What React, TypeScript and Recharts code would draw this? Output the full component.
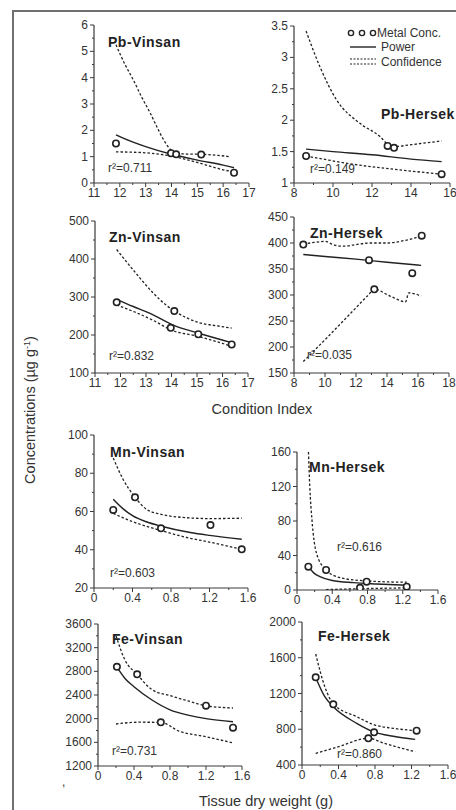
import React from 'react';
import { ComposedChart, Line, Scatter, XAxis, YAxis } from 'recharts';

type Pt = { x: number; y: number };

// ---------- Pb - Vinsan (Condition Index) ----------
const pbVinsanPoints: Pt[] = [
  { x: 11.85, y: 1.5 }, { x: 13.98, y: 1.13 }, { x: 14.18, y: 1.09 }, { x: 15.15, y: 1.08 }, { x: 16.42, y: 0.39 },
];
const pbVinsanPower: Pt[] = [
  { x: 11.85, y: 1.83 }, { x: 12, y: 1.76 }, { x: 13, y: 1.38 }, { x: 14, y: 1.09 }, { x: 15, y: 0.87 }, { x: 16, y: 0.68 }, { x: 16.42, y: 0.58 },
];
const pbVinsanUpper: Pt[] = [
  { x: 11.85, y: 5.25 }, { x: 12.2, y: 4.5 }, { x: 12.53, y: 3.9 }, { x: 12.85, y: 3.25 }, { x: 13.18, y: 2.65 }, { x: 13.45, y: 2.1 },
  { x: 13.7, y: 1.63 }, { x: 13.98, y: 1.25 }, { x: 14.18, y: 1.12 }, { x: 14.6, y: 1.1 }, { x: 15.15, y: 1.09 }, { x: 15.8, y: 1.05 }, { x: 16.25, y: 1.0 },
];
const pbVinsanLower: Pt[] = [
  { x: 11.85, y: 1.18 }, { x: 12.5, y: 1.17 }, { x: 13.2, y: 1.13 }, { x: 14, y: 1.02 }, { x: 15, y: 0.78 }, { x: 16, y: 0.5 }, { x: 16.42, y: 0.42 },
];

// ---------- Pb - Hersek ----------
const pbHersekPoints: Pt[] = [
  { x: 8.62, y: 1.43 }, { x: 12.8, y: 1.59 }, { x: 13.13, y: 1.56 }, { x: 15.57, y: 1.14 },
];
const pbHersekPower: Pt[] = [
  { x: 8.62, y: 1.54 }, { x: 10, y: 1.5 }, { x: 12, y: 1.45 }, { x: 14, y: 1.38 }, { x: 15.57, y: 1.34 },
];
const pbHersekUpper: Pt[] = [
  { x: 8.62, y: 3.42 }, { x: 9.33, y: 2.85 }, { x: 10.19, y: 2.32 }, { x: 11.38, y: 1.95 }, { x: 12.41, y: 1.74 },
  { x: 12.8, y: 1.62 }, { x: 13.13, y: 1.58 }, { x: 14, y: 1.61 }, { x: 15.57, y: 1.67 },
];
const pbHersekLower: Pt[] = [
  { x: 8.62, y: 1.43 }, { x: 9.5, y: 1.38 }, { x: 11, y: 1.3 }, { x: 12.5, y: 1.24 }, { x: 14, y: 1.19 }, { x: 15.57, y: 1.14 },
];

// ---------- Zn - Vinsan ----------
const znVinsanPoints: Pt[] = [
  { x: 11.85, y: 286 }, { x: 13.97, y: 219 }, { x: 14.11, y: 263 }, { x: 15.05, y: 202 }, { x: 16.36, y: 175 },
];
const znVinsanPower: Pt[] = [
  { x: 11.85, y: 294 }, { x: 12.5, y: 275 }, { x: 13.16, y: 257 }, { x: 14.07, y: 226 }, { x: 15.1, y: 204 }, { x: 16.36, y: 180 },
];
const znVinsanUpper: Pt[] = [
  { x: 11.85, y: 425 }, { x: 12.5, y: 371 }, { x: 13.29, y: 310 }, { x: 13.8, y: 278 }, { x: 14.11, y: 263 },
  { x: 14.6, y: 245 }, { x: 15.16, y: 231 }, { x: 15.8, y: 224 }, { x: 16.36, y: 218 },
];
const znVinsanLower: Pt[] = [
  { x: 11.85, y: 279 }, { x: 12.5, y: 262 }, { x: 13.3, y: 238 }, { x: 14, y: 213 }, { x: 15, y: 197 }, { x: 15.7, y: 184 }, { x: 16.36, y: 170 },
];

// ---------- Zn - Hersek ----------
const znHersekPoints: Pt[] = [
  { x: 8.6, y: 397 }, { x: 12.84, y: 367 }, { x: 13.18, y: 311 }, { x: 15.63, y: 342 }, { x: 16.24, y: 414 },
];
const znHersekPower: Pt[] = [
  { x: 8.6, y: 378 }, { x: 10, y: 374 }, { x: 12, y: 369 }, { x: 14, y: 363 }, { x: 16.2, y: 357 },
];
const znHersekUpper: Pt[] = [
  { x: 8.6, y: 398 }, { x: 9.3, y: 401 }, { x: 10, y: 403 }, { x: 10.6, y: 396 }, { x: 11.2, y: 394 }, { x: 12, y: 397 },
  { x: 12.84, y: 400 }, { x: 14, y: 400 }, { x: 15, y: 404 }, { x: 15.6, y: 408 }, { x: 16.24, y: 414 },
];
const znHersekLower: Pt[] = [
  { x: 8.6, y: 172 }, { x: 10, y: 214 }, { x: 11.5, y: 260 }, { x: 12.8, y: 300 }, { x: 13.18, y: 311 },
  { x: 14.2, y: 298 }, { x: 15.2, y: 287 }, { x: 15.4, y: 304 }, { x: 16.2, y: 298 },
];

// ---------- Mn - Vinsan (Tissue dry weight) ----------
const mnVinsanPoints: Pt[] = [
  { x: 0.2, y: 60.8 }, { x: 0.426, y: 67.4 }, { x: 0.696, y: 51.2 }, { x: 1.21, y: 52.9 }, { x: 1.535, y: 40.2 },
];
const mnVinsanPower: Pt[] = [
  { x: 0.2, y: 66.4 }, { x: 0.3, y: 61.5 }, { x: 0.4, y: 57.8 }, { x: 0.55, y: 54.5 }, { x: 0.7, y: 52.3 },
  { x: 1.0, y: 49 }, { x: 1.2, y: 47.5 }, { x: 1.535, y: 45.5 },
];
const mnVinsanUpper: Pt[] = [
  { x: 0.2, y: 88 }, { x: 0.3, y: 77 }, { x: 0.426, y: 67.5 }, { x: 0.55, y: 61 }, { x: 0.7, y: 58.5 },
  { x: 0.9, y: 57 }, { x: 1.21, y: 56.3 }, { x: 1.535, y: 56.5 },
];
const mnVinsanLower: Pt[] = [
  { x: 0.2, y: 59 }, { x: 0.4, y: 54.7 }, { x: 0.7, y: 50 }, { x: 1.0, y: 46 }, { x: 1.2, y: 44 }, { x: 1.535, y: 40.2 },
];

// ---------- Mn - Hersek ----------
const mnHersekPoints: Pt[] = [
  { x: 0.129, y: 27 }, { x: 0.33, y: 23.2 }, { x: 0.715, y: 2.5 }, { x: 0.79, y: 9.7 }, { x: 1.245, y: 3.9 },
];
const mnHersekPower: Pt[] = [
  { x: 0.129, y: 27 }, { x: 0.2, y: 19 }, { x: 0.26, y: 15.5 }, { x: 0.4, y: 11 }, { x: 0.64, y: 8.5 }, { x: 0.9, y: 7 }, { x: 1.245, y: 5.5 },
];
const mnHersekUpper: Pt[] = [
  { x: 0.13, y: 160 }, { x: 0.145, y: 120 }, { x: 0.17, y: 81 }, { x: 0.22, y: 43 }, { x: 0.33, y: 23.2 },
  { x: 0.5, y: 14 }, { x: 0.79, y: 10.5 }, { x: 1.0, y: 9.5 }, { x: 1.245, y: 9 },
];
const mnHersekLower: Pt[] = [
  { x: 0.33, y: 0.5 }, { x: 0.72, y: 1.5 }, { x: 1.245, y: 2.5 },
];

// ---------- Fe - Vinsan ----------
const feVinsanPoints: Pt[] = [
  { x: 0.21, y: 2877 }, { x: 0.435, y: 2749 }, { x: 0.698, y: 1938 }, { x: 1.2, y: 2219 }, { x: 1.5, y: 1847 },
];
const feVinsanPower: Pt[] = [
  { x: 0.21, y: 2870 }, { x: 0.3, y: 2680 }, { x: 0.4, y: 2540 }, { x: 0.6, y: 2315 }, { x: 0.8, y: 2150 },
  { x: 1.0, y: 2060 }, { x: 1.2, y: 2000 }, { x: 1.5, y: 1948 },
];
const feVinsanUpper: Pt[] = [
  { x: 0.2, y: 3400 }, { x: 0.3, y: 2990 }, { x: 0.435, y: 2749 }, { x: 0.6, y: 2490 }, { x: 0.8, y: 2390 },
  { x: 1.0, y: 2300 }, { x: 1.2, y: 2219 }, { x: 1.5, y: 2180 },
];
const feVinsanLower: Pt[] = [
  { x: 0.2, y: 1910 }, { x: 0.45, y: 1940 }, { x: 0.698, y: 1938 }, { x: 0.9, y: 1790 }, { x: 1.2, y: 1695 }, { x: 1.5, y: 1592 },
];

// ---------- Fe - Hersek ----------
const feHersekPoints: Pt[] = [
  { x: 0.15, y: 1381 }, { x: 0.343, y: 1079 }, { x: 0.727, y: 699 }, { x: 0.79, y: 766 }, { x: 1.256, y: 784 },
];
const feHersekPower: Pt[] = [
  { x: 0.15, y: 1380 }, { x: 0.25, y: 1164 }, { x: 0.343, y: 1052 }, { x: 0.6, y: 866 }, { x: 0.8, y: 765 },
  { x: 1.0, y: 722 }, { x: 1.24, y: 687 },
];
const feHersekUpper: Pt[] = [
  { x: 0.15, y: 1642 }, { x: 0.25, y: 1276 }, { x: 0.343, y: 1085 }, { x: 0.6, y: 940 }, { x: 0.8, y: 847 },
  { x: 1.0, y: 810 }, { x: 1.256, y: 784 },
];
const feHersekLower: Pt[] = [
  { x: 0.15, y: 531 }, { x: 0.4, y: 605 }, { x: 0.727, y: 699 }, { x: 0.9, y: 643 }, { x: 1.24, y: 549 },
];

// ---------- Ticks ----------
const ciTicks11to17 = [11, 11.5, 12, 12.5, 13, 13.5, 14, 14.5, 15, 15.5, 16, 16.5, 17];
const ciMajor11to17 = [11, 12, 13, 14, 15, 16, 17];
const ciTicks8to16 = [8, 9, 10, 11, 12, 13, 14, 15, 16];
const ciMajor8to16 = [8, 10, 12, 14, 16];
const ciTicks8to18 = [8, 9, 10, 11, 12, 13, 14, 15, 16, 17, 18];
const ciMajor8to18 = [8, 10, 12, 14, 16, 18];
const dwTicks = [0, 0.2, 0.4, 0.6, 0.8, 1.0, 1.2, 1.4, 1.6];
const dwMajor = [0, 0.4, 0.8, 1.2, 1.6];

const pbVinsanYTicks = [0, 0.5, 1, 1.5, 2, 2.5, 3, 3.5, 4, 4.5, 5, 5.5, 6];
const pbVinsanYMajor = [0, 1, 2, 3, 4, 5, 6];
const pbHersekYTicks = [1, 1.25, 1.5, 1.75, 2, 2.25, 2.5, 2.75, 3, 3.25, 3.5];
const pbHersekYMajor = [1, 1.5, 2, 2.5, 3, 3.5];
const znVinsanYTicks = [100, 150, 200, 250, 300, 350, 400, 450, 500];
const znVinsanYMajor = [100, 200, 300, 400, 500];
const znHersekYTicks = [150, 175, 200, 225, 250, 275, 300, 325, 350, 375, 400, 425, 450];
const znHersekYMajor = [150, 200, 250, 300, 350, 400, 450];
const mnVinsanYTicks = [20, 30, 40, 50, 60, 70, 80, 90, 100];
const mnVinsanYMajor = [20, 40, 60, 80, 100];
const mnHersekYTicks = [0, 20, 40, 60, 80, 100, 120, 140, 160];
const mnHersekYMajor = [0, 40, 80, 120, 160];
const feVinsanYTicks = [1200, 1400, 1600, 1800, 2000, 2200, 2400, 2600, 2800, 3000, 3200, 3400, 3600];
const feVinsanYMajor = [1200, 1600, 2000, 2400, 2800, 3200, 3600];
const feHersekYTicks = [400, 600, 800, 1000, 1200, 1400, 1600, 1800, 2000];
const feHersekYMajor = [400, 800, 1200, 1600, 2000];

const FONT = '"Liberation Sans", Arial, Helvetica, sans-serif';
const AXIS = '#3a3a3a';
const INK = '#222';

const isIn = (arr: number[], v: number) => arr.some((m) => Math.abs(m - v) < 1e-6);

const makeXTick = (major: number[]) => (props: any) => {
  const { x, y, payload } = props;
  const mj = isIn(major, payload.value);
  return (
    <g>
      <line x1={x} x2={x} y1={y} y2={y + (mj ? 4 : 2)} stroke={AXIS} strokeWidth={1} />
      {mj && (
        <text x={x} y={y + 14} textAnchor="middle" fontSize={12} fill="#333" fontFamily={FONT}>
          {String(payload.value)}
        </text>
      )}
    </g>
  );
};

const makeYTick = (major: number[]) => (props: any) => {
  const { x, y, payload } = props;
  const mj = isIn(major, payload.value);
  return (
    <g>
      <line x1={x} x2={x - (mj ? 4 : 2)} y1={y} y2={y} stroke={AXIS} strokeWidth={1} />
      {mj && (
        <text x={x - 6} y={y + 4} textAnchor="end" fontSize={12} fill="#333" fontFamily={FONT}>
          {String(payload.value)}
        </text>
      )}
    </g>
  );
};

const openCircle = (p: any) => (
  <circle cx={p.cx} cy={p.cy} r={3.2} fill="#fff" stroke={INK} strokeWidth={1.6} />
);

type PanelProps = {
  box: { x0: number; x1: number; y0: number; y1: number };
  xDomain: [number, number];
  yDomain: [number, number];
  xTicks: number[];
  xMajor: number[];
  yTicks: number[];
  yMajor: number[];
  points: Pt[];
  power: Pt[];
  upper: Pt[];
  lower: Pt[];
};

function Panel({ box, xDomain, yDomain, xTicks, xMajor, yTicks, yMajor, points, power, upper, lower }: PanelProps) {
  const ML = 45, MT = 10, MR = 12, MB = 25;
  const w = box.x1 - box.x0 + ML + MR;
  const h = box.y1 - box.y0 + MT + MB;
  return (
    <div style={{ position: 'absolute', left: box.x0 - ML, top: box.y0 - MT, width: w, height: h }}>
      <ComposedChart width={w} height={h} margin={{ top: MT, right: MR, bottom: 0, left: 0 }}>
        <XAxis
          type="number" dataKey="x" domain={xDomain} ticks={xTicks} interval={0} allowDataOverflow
          height={MB} tickSize={0} tickMargin={0} tickLine={false}
          axisLine={{ stroke: AXIS, strokeWidth: 1.2 }} tick={makeXTick(xMajor)}
        />
        <YAxis
          type="number" dataKey="y" domain={yDomain} ticks={yTicks} interval={0} allowDataOverflow
          width={ML} tickSize={0} tickMargin={0} tickLine={false}
          axisLine={{ stroke: AXIS, strokeWidth: 1.2 }} tick={makeYTick(yMajor)}
        />
        <Line data={upper} dataKey="y" type="monotone" stroke={INK} strokeWidth={1.3} strokeDasharray="2.5 2" dot={false} isAnimationActive={false} name="Confidence" />
        <Line data={lower} dataKey="y" type="monotone" stroke={INK} strokeWidth={1.3} strokeDasharray="2.5 2" dot={false} isAnimationActive={false} name="Confidence" legendType="none" />
        <Line data={power} dataKey="y" type="monotone" stroke={INK} strokeWidth={1.4} dot={false} isAnimationActive={false} name="Power" />
        <Scatter data={points} dataKey="y" shape={openCircle} isAnimationActive={false} name="Metal Conc." />
      </ComposedChart>
    </div>
  );
}

const titleStyle = { fontFamily: FONT, fontSize: 14, fontWeight: 700, fill: INK, letterSpacing: 0.5 } as const;
const rStyle = { fontFamily: FONT, fontSize: 12, fill: '#333' } as const;
const labStyle = { fontFamily: FONT, fontSize: 14.5, fill: '#333' } as const;

export default function App() {
  return (
    <div style={{ position: 'absolute', left: 0, top: 0, width: 456, height: 810, background: '#fff', overflow: 'hidden' }}>
      <Panel box={{ x0: 94, x1: 249, y0: 25, y1: 183 }} xDomain={[11, 17]} yDomain={[0, 6]}
        xTicks={ciTicks11to17} xMajor={ciMajor11to17} yTicks={pbVinsanYTicks} yMajor={pbVinsanYMajor}
        points={pbVinsanPoints} power={pbVinsanPower} upper={pbVinsanUpper} lower={pbVinsanLower} />
      <Panel box={{ x0: 294, x1: 450, y0: 26, y1: 183 }} xDomain={[8, 16]} yDomain={[1, 3.5]}
        xTicks={ciTicks8to16} xMajor={ciMajor8to16} yTicks={pbHersekYTicks} yMajor={pbHersekYMajor}
        points={pbHersekPoints} power={pbHersekPower} upper={pbHersekUpper} lower={pbHersekLower} />
      <Panel box={{ x0: 95, x1: 248, y0: 221, y1: 373 }} xDomain={[11, 17]} yDomain={[100, 500]}
        xTicks={ciTicks11to17} xMajor={ciMajor11to17} yTicks={znVinsanYTicks} yMajor={znVinsanYMajor}
        points={znVinsanPoints} power={znVinsanPower} upper={znVinsanUpper} lower={znVinsanLower} />
      <Panel box={{ x0: 294, x1: 449, y0: 217, y1: 373 }} xDomain={[8, 18]} yDomain={[150, 450]}
        xTicks={ciTicks8to18} xMajor={ciMajor8to18} yTicks={znHersekYTicks} yMajor={znHersekYMajor}
        points={znHersekPoints} power={znHersekPower} upper={znHersekUpper} lower={znHersekLower} />
      <Panel box={{ x0: 94, x1: 248, y0: 435, y1: 588 }} xDomain={[0, 1.6]} yDomain={[20, 100]}
        xTicks={dwTicks} xMajor={dwMajor} yTicks={mnVinsanYTicks} yMajor={mnVinsanYMajor}
        points={mnVinsanPoints} power={mnVinsanPower} upper={mnVinsanUpper} lower={mnVinsanLower} />
      <Panel box={{ x0: 297, x1: 438, y0: 452, y1: 590 }} xDomain={[0, 1.6]} yDomain={[0, 160]}
        xTicks={dwTicks} xMajor={dwMajor} yTicks={mnHersekYTicks} yMajor={mnHersekYMajor}
        points={mnHersekPoints} power={mnHersekPower} upper={mnHersekUpper} lower={mnHersekLower} />
      <Panel box={{ x0: 98, x1: 242, y0: 624, y1: 766 }} xDomain={[0, 1.6]} yDomain={[1200, 3600]}
        xTicks={dwTicks} xMajor={dwMajor} yTicks={feVinsanYTicks} yMajor={feVinsanYMajor}
        points={feVinsanPoints} power={feVinsanPower} upper={feVinsanUpper} lower={feVinsanLower} />
      <Panel box={{ x0: 302, x1: 448, y0: 622, y1: 765 }} xDomain={[0, 1.6]} yDomain={[400, 2000]}
        xTicks={dwTicks} xMajor={dwMajor} yTicks={feHersekYTicks} yMajor={feHersekYMajor}
        points={feHersekPoints} power={feHersekPower} upper={feHersekUpper} lower={feHersekLower} />

      <svg width={456} height={810} style={{ position: 'absolute', left: 0, top: 0, pointerEvents: 'none' }}>
        <path d="M13,810 L13,11 L456,11" fill="none" stroke="#707070" strokeWidth={2} />

        <text x={108} y={47} style={titleStyle}>Pb-Vinsan</text>
        <text x={381} y={119} style={titleStyle}>Pb-Hersek</text>
        <text x={109} y={242} style={titleStyle}>Zn-Vinsan</text>
        <text x={310} y={238} style={titleStyle}>Zn-Hersek</text>
        <text x={110} y={457} style={titleStyle}>Mn-Vinsan</text>
        <text x={309} y={472} style={titleStyle}>Mn-Hersek</text>
        <text x={112} y={644} style={titleStyle}>Fe-Vinsan</text>
        <text x={318} y={641} style={titleStyle}>Fe-Hersek</text>

        <text x={108} y={172} style={rStyle}>r²=0.711</text>
        <text x={310} y={173} style={rStyle}>r²=0.149</text>
        <text x={109} y={360} style={rStyle}>r²=0.832</text>
        <text x={307} y={359} style={rStyle}>r²=0.035</text>
        <text x={110} y={577} style={rStyle}>r²=0.603</text>
        <text x={337} y={551} style={rStyle}>r²=0.616</text>
        <text x={112} y={755} style={rStyle}>r²=0.731</text>
        <text x={337} y={758} style={rStyle}>r²=0.860</text>

        <text transform="translate(35,410) rotate(-90)" textAnchor="middle" style={labStyle}>
          Concentrations (µg g<tspan dy={-5} fontSize={9}>-1</tspan><tspan dy={5}>)</tspan>
        </text>
        <text x={262} y={414} textAnchor="middle" style={labStyle}>Condition Index</text>
        <text x={266} y={806} textAnchor="middle" style={labStyle}>Tissue dry weight (g)</text>
        <text x={62} y={786} style={rStyle}>,</text>

        {/* legend */}
        <circle cx={351} cy={33} r={2.6} fill="#fff" stroke={INK} strokeWidth={1.4} />
        <circle cx={362} cy={33} r={2.6} fill="#fff" stroke={INK} strokeWidth={1.4} />
        <circle cx={373} cy={33} r={2.6} fill="#fff" stroke={INK} strokeWidth={1.4} />
        <text x={377} y={37} style={rStyle}>Metal Conc.</text>
        <line x1={350} x2={376} y1={47} y2={47} stroke={INK} strokeWidth={1.4} />
        <text x={381} y={51} style={rStyle}>Power</text>
        <line x1={350} x2={376} y1={59} y2={59} stroke={INK} strokeWidth={1.2} strokeDasharray="2 1.5" />
        <line x1={350} x2={376} y1={64} y2={64} stroke={INK} strokeWidth={1.2} strokeDasharray="2 1.5" />
        <text x={381} y={66} style={rStyle}>Confidence</text>
      </svg>
    </div>
  );
}
